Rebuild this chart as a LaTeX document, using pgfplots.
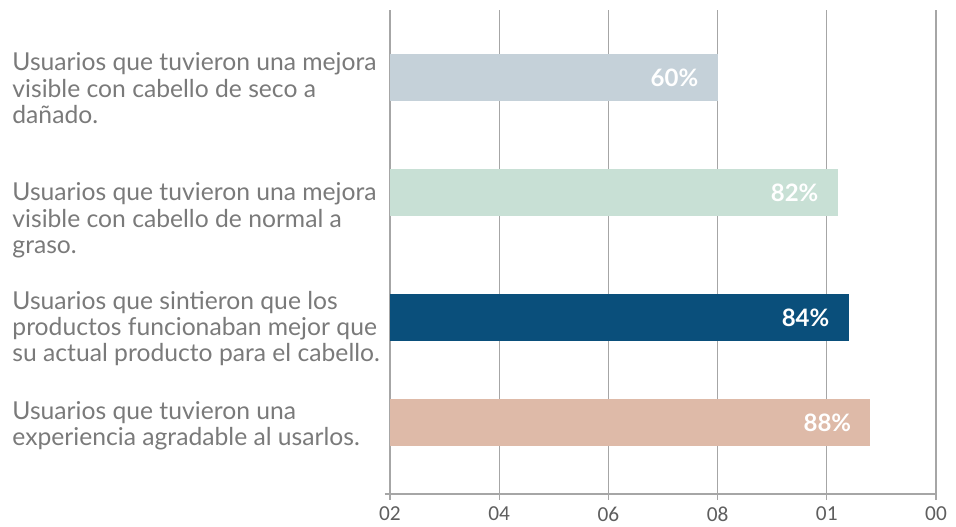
\documentclass[border=0pt]{standalone}
\usepackage{fontspec}
\setmainfont{Lato}
\newfontfamily\tickfont{Carlito}
\usepackage{pgfplots}
\pgfplotsset{compat=1.18}
\definecolor{bA}{HTML}{C5D1D9}
\definecolor{bB}{HTML}{C8E0D5}
\definecolor{bC}{HTML}{0A4F7B}
\definecolor{bD}{HTML}{DEBAA8}
\definecolor{txt}{HTML}{7A7A7A}
\definecolor{gridc}{HTML}{A6A6A6}
\definecolor{tickc}{HTML}{5E5E5E}
\begin{document}
\begin{tikzpicture}
\path[use as bounding box] (-292.5pt,-24.75pt) rectangle (424.5pt,370.5pt);
\begin{axis}[
  xbar, bar width=47, bar shift=0pt,
  scale only axis, width=409.5pt, height=363pt,
  xmin=0, xmax=100, ymin=0, ymax=484,
  axis x line=bottom, axis y line=none,
  x axis line style={-, draw=gridc, line width=0.9pt},
  xtick={0,20,40,60,80,100},
  xticklabels={02,04,06,08,01,00},
  xmajorgrids, grid style={draw=gridc, line width=0.9pt},
  major tick length=4.5pt, tick align=outside,
  tick style={draw=gridc, line width=0.9pt},
  xticklabel style={font=\tickfont\fontsize{16}{16}\selectfont, text=tickc, yshift=-1.5pt},
  ytick=\empty,
  clip=false,
  /pgf/number format/assume math mode=true,
  nodes near coords={\pgfmathprintnumber{\pgfplotspointmeta}\%},
  every node near coord/.append style={anchor=east, xshift=-11pt, text=white, font=\bfseries\fontsize{18}{18}\selectfont},
]
\addplot[fill=bA, draw=none] coordinates {(60,416.5)};
\addplot[fill=bB, draw=none] coordinates {(82,301.5)};
\addplot[fill=bC, draw=none] coordinates {(84,176.5)};
\addplot[fill=bD, draw=none] coordinates {(88,71.5)};
\draw[draw=gridc, line width=0.9pt] (axis cs:-1,0) -- (axis cs:0,0);
\begin{scope}[every node/.style={anchor=base west, inner sep=0pt, text=txt, font=\fontsize{18.5}{18.5}\selectfont}]
\node at (axis cs:-69.2,423.3) {Usuarios que tuvieron una mejora};
\node at (axis cs:-69.2,396.8) {visible con cabello de seco a};
\node at (axis cs:-69.2,370.3) {dañado.};
\node at (axis cs:-69.2,293) {Usuarios que tuvieron una mejora};
\node at (axis cs:-69.2,266.5) {visible con cabello de normal a};
\node at (axis cs:-69.2,240) {graso.};
\node at (axis cs:-69.2,184) {Usuarios que sintieron que los};
\node at (axis cs:-69.2,158) {productos funcionaban mejor que};
\node at (axis cs:-69.2,132.3) {su actual producto para el cabello.};
\node at (axis cs:-69.2,74) {Usuarios que tuvieron una};
\node at (axis cs:-69.2,48.3) {experiencia agradable al usarlos.};
\end{scope}
\end{axis}
\end{tikzpicture}
\end{document}
